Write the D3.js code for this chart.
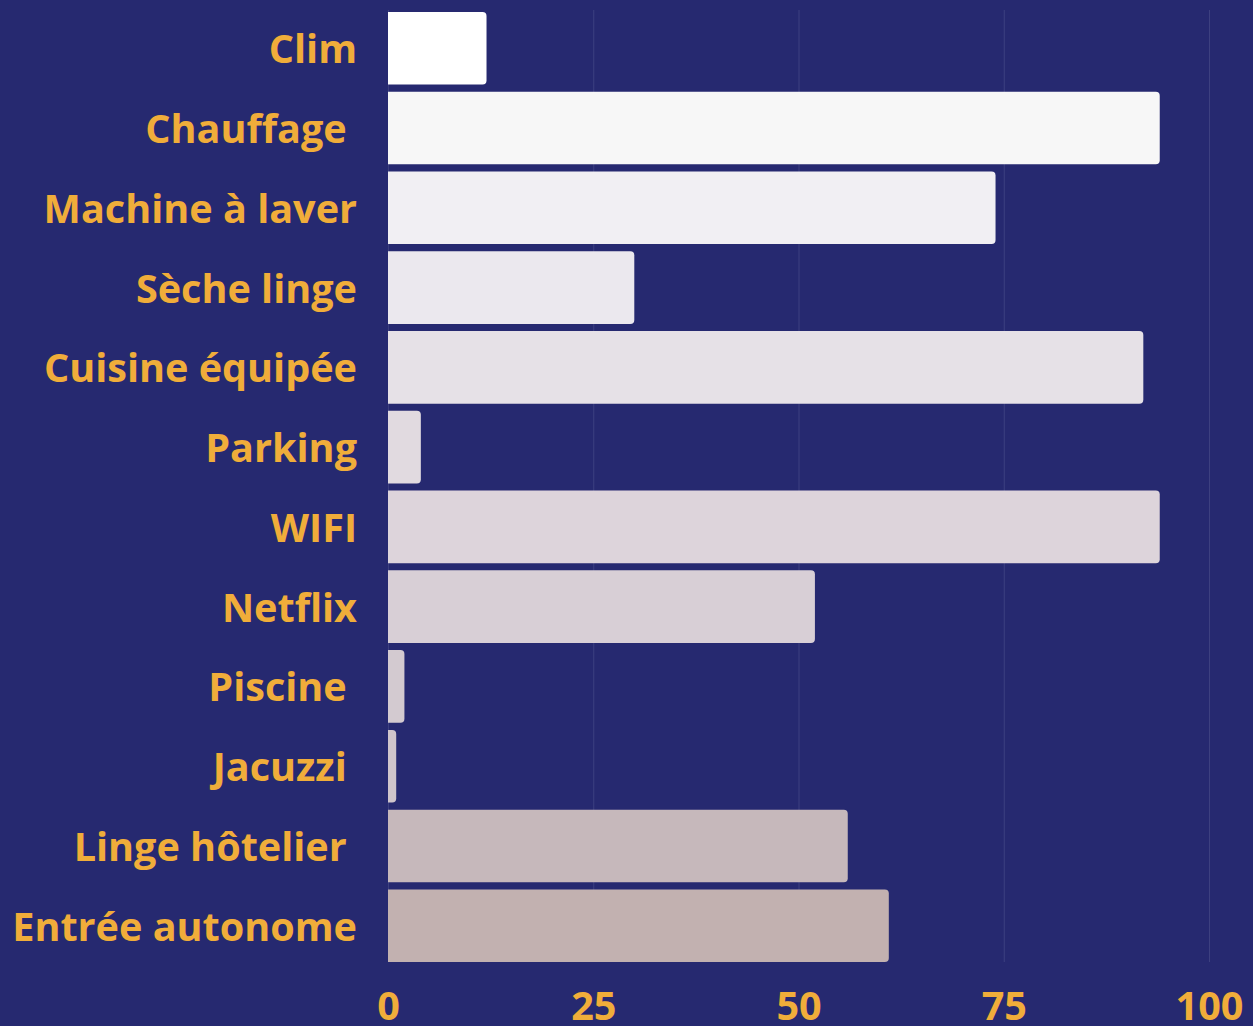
<!DOCTYPE html>
<html><head><meta charset="utf-8">
<script src="https://cdn.jsdelivr.net/npm/d3@7"></script>
<style>html,body{margin:0;padding:0;background:#262970;}svg{display:block;}</style>
</head><body>
<svg id="c" width="1253" height="1026"></svg>
<script>
const categories = ["Clim","Chauffage ","Machine à laver","Sèche linge","Cuisine équipée","Parking","WIFI","Netflix","Piscine ","Jacuzzi ","Linge hôtelier ","Entrée autonome"];
const values = [12,94,74,30,92,4,94,52,2,1,56,61];
const barColors = ["#ffffff","#f7f7f7","#f1eff3","#ebe8ee","#e6e1e7","#e1dae0","#ddd4db","#d8cfd6","#d3cad0","#cfc5cb","#c6b8bb","#c2b1b0"];
const tickValues = [0,25,50,75,100];

const svg = d3.select("#c");
const W = 1253, H = 1026;
svg.append("rect").attr("width",W).attr("height",H).attr("fill","#262970");
const x = d3.scaleLinear().domain([0,100]).range([388,1209]);
const y = d3.scaleBand().domain(categories).range([8,966]).paddingInner(0.09).paddingOuter(0.05);

const font = "'Open Sans', sans-serif";
const orange = "#f0ad3a";

// gridlines
svg.append("g").selectAll("line").data(tickValues).join("line")
  .attr("x1",d=>x(d)+0.5).attr("x2",d=>x(d)+0.5)
  .attr("y1",10).attr("y2",962)
  .attr("stroke","#3d4080").attr("stroke-width",1);

// bars: square left, rounded right
const r = 4;
svg.append("g").selectAll("path").data(values).join("path")
  .attr("d",(d,i)=>{
    const x0 = x(0), x1 = x(d), y0 = y(categories[i]), h = y.bandwidth();
    const rr = Math.min(r,(x1-x0)/2);
    return `M${x0},${y0}H${x1-rr}Q${x1},${y0} ${x1},${y0+rr}V${y0+h-rr}Q${x1},${y0+h} ${x1-rr},${y0+h}H${x0}Z`;
  })
  .attr("fill",(d,i)=>barColors[i]);

// y labels
const ya = d3.axisLeft(y).tickSize(0).tickPadding(31);
const gy = svg.append("g").attr("transform","translate(388,0)").call(ya);
gy.select(".domain").remove();
gy.selectAll("text").style("white-space","pre").attr("xml:space","preserve")
  .attr("fill",orange).attr("font-family",font).attr("font-weight",700).attr("font-size",39.6).attr("dy","0.38em");

// x axis
const xa = d3.axisBottom(x).tickValues(tickValues).tickSize(0).tickPadding(0);
const gx = svg.append("g").attr("transform","translate(0,992)").call(xa);
gx.select(".domain").remove();
gx.selectAll("text").attr("fill",orange).attr("font-family",font).attr("font-weight",700).attr("font-size",39.6).attr("dy","0.71em");
</script>
</body></html>
